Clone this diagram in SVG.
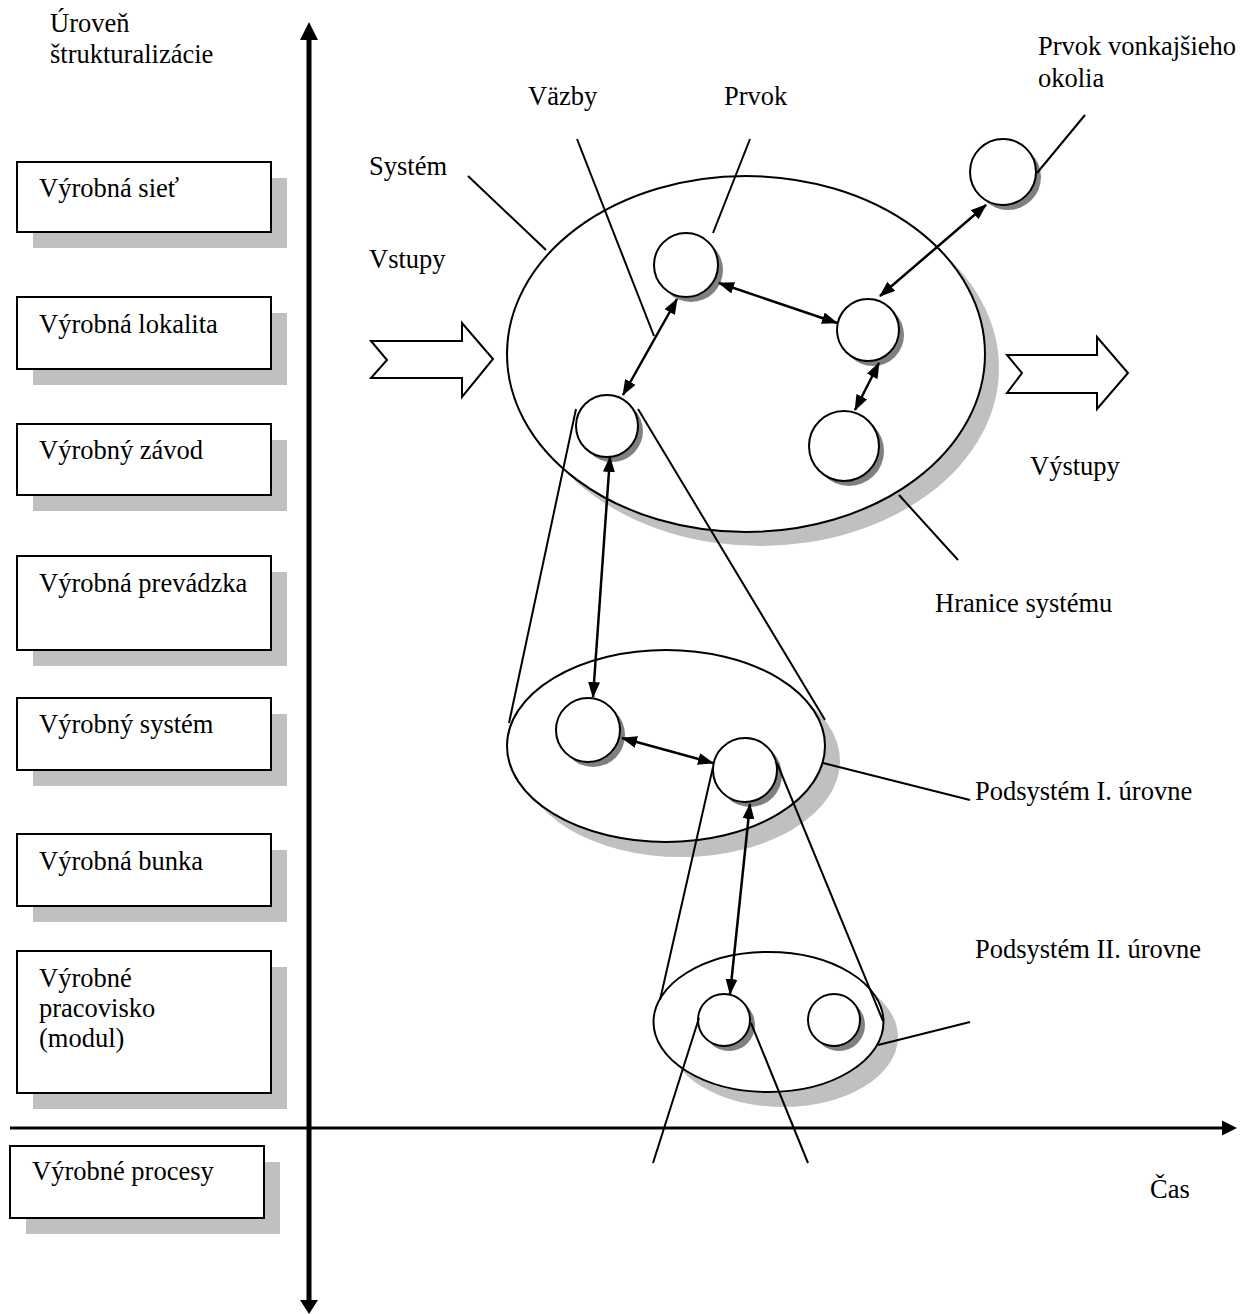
<svg xmlns="http://www.w3.org/2000/svg" width="1247" height="1314" viewBox="0 0 1247 1314">
<defs>
<style>
text{font-family:"Liberation Serif","Times New Roman",serif;font-size:26.5px;fill:#000}
.box{fill:#fff;stroke:#000;stroke-width:2}
.bsh{fill:#c0c0c0}
.ell{fill:#fff;stroke:#000;stroke-width:2}
.esh{fill:#c0c0c0}
.cir{fill:#fff;stroke:#000;stroke-width:2}
.csh{fill:#808080}
.ln{stroke:#000;stroke-width:2;fill:none}
.ar{stroke:#000;stroke-width:2.5;fill:none;marker-start:url(#ah);marker-end:url(#ah)}
.hol{fill:#fff;stroke:#000;stroke-width:2;stroke-linejoin:miter}
</style>
<marker id="ah" markerUnits="userSpaceOnUse" viewBox="0 0 16 12" markerWidth="16" markerHeight="12" refX="15" refY="6" orient="auto-start-reverse">
<path d="M0,0 L16,6 L0,12 z" fill="#000"/>
</marker>
</defs>
<rect width="1247" height="1314" fill="#fff"/>

<g id="axes">
<line x1="309" y1="36" x2="309" y2="1302" stroke="#000" stroke-width="5"/>
<polygon points="309,22 300,40 318,40" fill="#000"/>
<polygon points="309,1314 300,1300 318,1300" fill="#000"/>
<line x1="10" y1="1128" x2="1224" y2="1128" stroke="#000" stroke-width="3"/>
<polygon points="1237,1128 1222,1120.5 1222,1135.5" fill="#000"/>
<text x="50" y="32">Úroveň</text>
<text x="50" y="63">štrukturalizácie</text>
<text x="1150" y="1198">Čas</text>
</g>

<g id="level-siet"><rect class="bsh" x="33" y="178" width="254" height="70"/><rect class="box" x="17" y="162" width="254" height="70"/><text x="39" y="197">Výrobná sieť</text></g>
<g id="level-lokalita"><rect class="bsh" x="33" y="313" width="254" height="72"/><rect class="box" x="17" y="297" width="254" height="72"/><text x="39" y="333">Výrobná lokalita</text></g>
<g id="level-zavod"><rect class="bsh" x="33" y="440" width="254" height="71"/><rect class="box" x="17" y="424" width="254" height="71"/><text x="39" y="459">Výrobný závod</text></g>
<g id="level-prevadzka"><rect class="bsh" x="33" y="572" width="254" height="94"/><rect class="box" x="17" y="556" width="254" height="94"/><text x="39" y="592">Výrobná prevádzka</text></g>
<g id="level-system"><rect class="bsh" x="33" y="714" width="254" height="72"/><rect class="box" x="17" y="698" width="254" height="72"/><text x="39" y="733">Výrobný systém</text></g>
<g id="level-bunka"><rect class="bsh" x="33" y="850" width="254" height="72"/><rect class="box" x="17" y="834" width="254" height="72"/><text x="39" y="870">Výrobná bunka</text></g>
<g id="level-pracovisko"><rect class="bsh" x="33" y="967" width="254" height="142"/><rect class="box" x="17" y="951" width="254" height="142"/><text x="39" y="987">Výrobné</text><text x="39" y="1017">pracovisko</text><text x="39" y="1047">(modul)</text></g>
<g id="level-procesy"><rect class="bsh" x="26" y="1162" width="254" height="72"/><rect class="box" x="10" y="1146" width="254" height="72"/><text x="32" y="1180">Výrobné procesy</text></g>

<g id="system">
<ellipse class="esh" cx="760" cy="368" rx="239" ry="178"/>
<ellipse class="ell" cx="746" cy="354" rx="239" ry="178"/>
</g>
<g id="input-arrow"><polygon class="hol" points="371,341 462,341 462,323 493,359 462,397 462,378 371,378 387,360"/><text x="369" y="268">Vstupy</text></g>
<g id="output-arrow"><polygon class="hol" points="1007,355 1097,355 1097,337 1128,373 1097,409 1097,393 1007,393 1022,373"/><text x="1030" y="475">Výstupy</text></g>
<g id="el-c1"><circle class="csh" cx="691" cy="270" r="32"/><circle class="cir" cx="686" cy="265" r="32"/></g>
<g id="el-c2"><circle class="csh" cx="873" cy="335" r="31"/><circle class="cir" cx="868" cy="330" r="31"/></g>
<g id="el-c3"><circle class="csh" cx="849" cy="451" r="35"/><circle class="cir" cx="844" cy="446" r="35"/></g>
<g id="el-c4"><circle class="csh" cx="612" cy="431" r="31"/><circle class="cir" cx="607" cy="426" r="31"/></g>
<g id="el-ext"><circle class="csh" cx="1008" cy="177" r="33"/><circle class="cir" cx="1003" cy="172" r="33"/></g>

<g id="subsystem1">
<ellipse class="esh" cx="681" cy="761" rx="159" ry="96"/>
<ellipse class="ell" cx="666" cy="746" rx="159" ry="96"/>
</g>
<g id="el-l1"><circle class="csh" cx="593" cy="735" r="32"/><circle class="cir" cx="588" cy="730" r="32"/></g>
<g id="el-l2"><circle class="csh" cx="750" cy="775" r="32"/><circle class="cir" cx="745" cy="770" r="32"/></g>

<g id="subsystem2">
<ellipse class="esh" cx="783" cy="1037" rx="115" ry="70"/>
<ellipse class="ell" cx="768.5" cy="1022" rx="115" ry="70"/>
</g>
<g id="el-m1"><circle class="csh" cx="729" cy="1025" r="26"/><circle class="cir" cx="724" cy="1020" r="26"/></g>
<g id="el-m2"><circle class="csh" cx="839" cy="1025" r="26"/><circle class="cir" cx="834" cy="1020" r="26"/></g>

<g id="labels">
<text x="528" y="105">Väzby</text>
<text x="724" y="105">Prvok</text>
<text x="369" y="175">Systém</text>
<text x="1038" y="55">Prvok vonkajšieho</text>
<text x="1038" y="87">okolia</text>
<text x="935" y="612">Hranice systému</text>
<text x="975" y="800">Podsystém I. úrovne</text>
<text x="975" y="958">Podsystém II. úrovne</text>
</g>

<g id="connectors">
<line class="ln" x1="468" y1="176" x2="546" y2="250"/>
<line class="ln" x1="577" y1="139" x2="654" y2="336"/>
<line class="ln" x1="750" y1="139" x2="713" y2="233"/>
<line class="ln" x1="1085" y1="115" x2="1037" y2="173"/>
<line class="ln" x1="899" y1="495" x2="958" y2="560"/>
<line class="ln" x1="576" y1="409" x2="509" y2="723"/>
<line class="ln" x1="638" y1="409" x2="825" y2="720"/>
<line class="ln" x1="713" y1="767" x2="660" y2="1000"/>
<line class="ln" x1="777" y1="763" x2="883" y2="1021"/>
<line class="ln" x1="823" y1="763" x2="970" y2="800"/>
<line class="ln" x1="878" y1="1045" x2="970" y2="1022"/>
<line class="ln" x1="699" y1="1018" x2="653" y2="1163"/>
<line class="ln" x1="751" y1="1023" x2="808" y2="1163"/>
<line class="ar" x1="623" y1="395" x2="677" y2="299"/>
<line class="ar" x1="719" y1="283" x2="837" y2="323"/>
<line class="ar" x1="880" y1="296" x2="986" y2="205"/>
<line class="ar" x1="879" y1="363" x2="855" y2="410"/>
<line class="ar" x1="610" y1="457" x2="593" y2="697"/>
<line class="ar" x1="622" y1="738" x2="713" y2="763"/>
<line class="ar" x1="750" y1="804" x2="730" y2="994"/>
</g>
</svg>
